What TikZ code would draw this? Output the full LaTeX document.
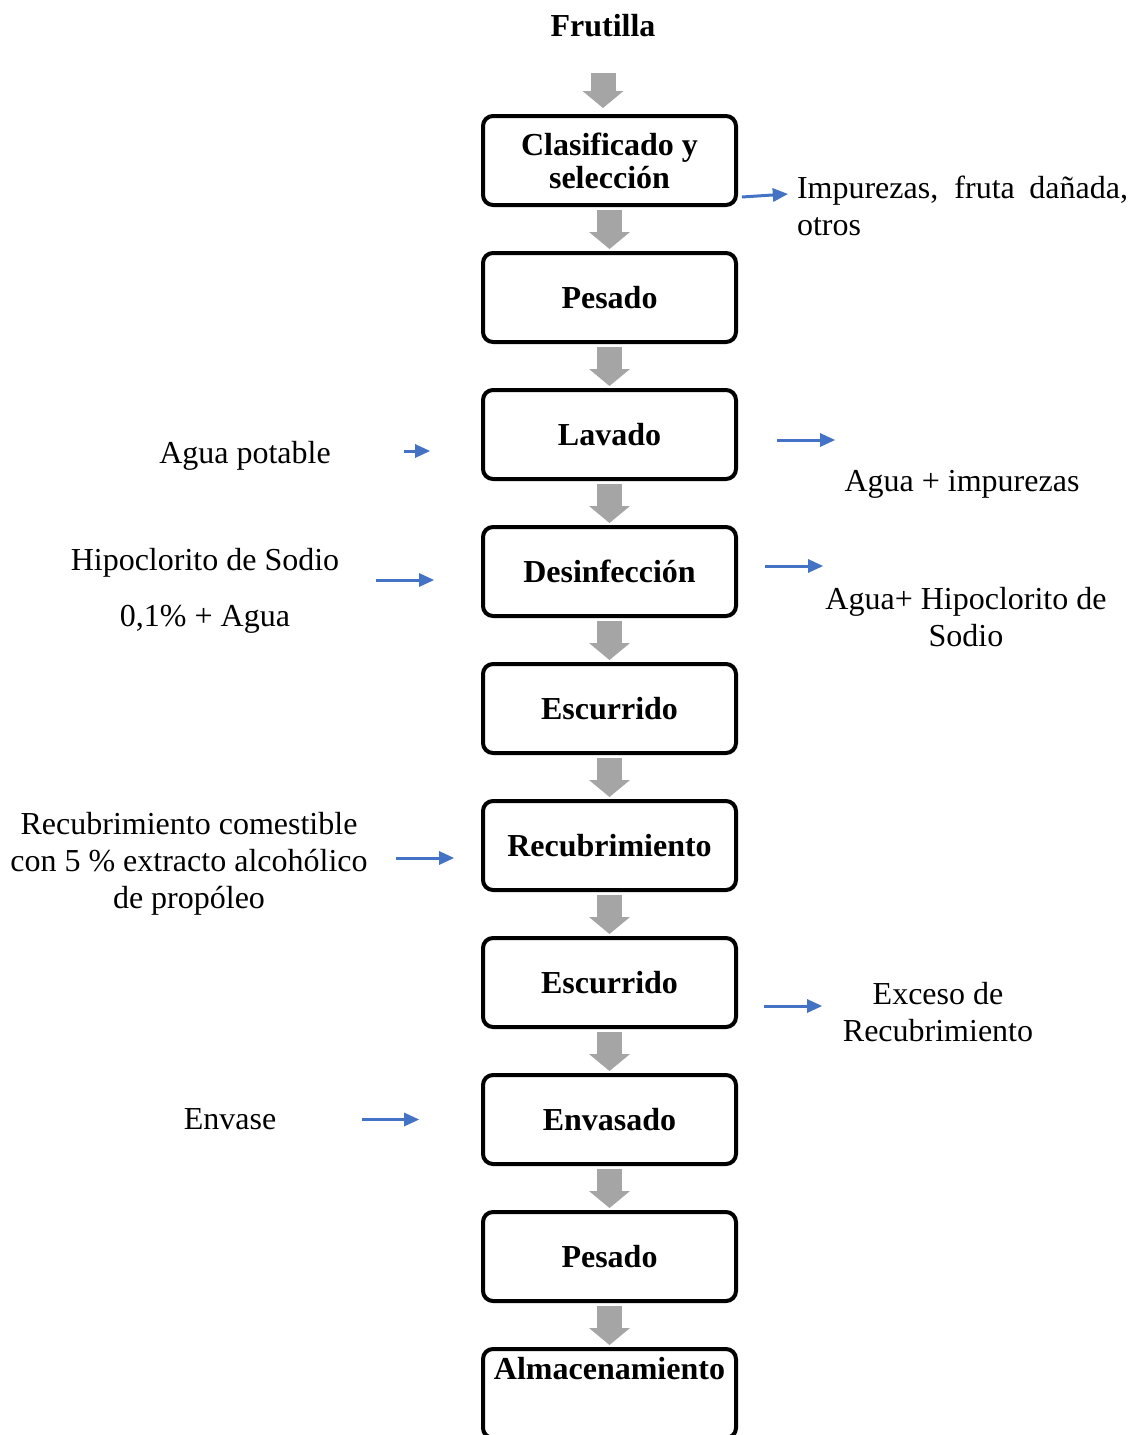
\documentclass[tikz,border=0pt]{standalone}
\usepackage{fontspec}
\setmainfont{Liberation Serif}
\usetikzlibrary{arrows.meta}
\definecolor{grisflecha}{HTML}{A5A5A5}
\definecolor{azulflecha}{HTML}{4472C4}
\tikzset{etapa/.style={draw,line width=4pt,rounded corners=10pt,minimum width=253pt,minimum height=89pt,inner sep=0pt,align=center,font=\fontsize{32}{33}\selectfont\bfseries},
    nota/.style={inner sep=0pt,align=center,font=\fontsize{32}{37}\selectfont},
    bloque/.style={grisflecha,line width=25pt,-{Triangle[width=41pt,length=17pt,line width=0pt]}},
    flujo/.style={azulflecha,line width=3pt,-{Triangle[width=14pt,length=15pt,line width=0pt]}}}

\begin{document}
\begin{tikzpicture}[x=1pt,y=-1pt]
\useasboundingbox (0,0) rectangle (1136,1435);

\node (frut) [nota,font=\fontsize{32}{37}\selectfont\bfseries] at (603,26) {Frutilla};

\node (clas)  [etapa] at (609.5,160.5)  {Clasificado y\\selección};
\node (pes1)  [etapa] at (609.5,297.5)  {Pesado};
\node (lav)   [etapa] at (609.5,434.5)  {Lavado};
\node (des)   [etapa] at (609.5,571.5)  {Desinfección};
\node (esc1)  [etapa] at (609.5,708.5)  {Escurrido};
\node (recub) [etapa] at (609.5,845.5)  {Recubrimiento};
\node (esc2)  [etapa] at (609.5,982.5)  {Escurrido};
\node (env)   [etapa] at (609.5,1119.5) {Envasado};
\node (pes2)  [etapa] at (609.5,1256.5) {Pesado};
\node (alm)   [etapa] at (609.5,1393.5) {Almacenamiento\\[18pt]\mbox{}};

% entradas y salidas
\node (impz) [nota,text width=331pt,align=justify] at (962.5,205.5) {Impurezas, fruta dañada, otros};
\node (aguap) [nota] at (245,456) {Agua potable};
\node (aguai) [nota] at (962,484) {Agua + impurezas};
\node (hipo) [nota] at (205,590.5) {Hipoclorito de Sodio\\[19pt]0,1\% + Agua};
\node (aguah) [nota] at (966,617) {Agua+ Hipoclorito de\\Sodio};
\node (recc) [nota] at (189,863.5) {Recubrimiento comestible\\con 5 \% extracto alcohólico\\de propóleo};
\node (exc) [nota] at (938,1012) {Exceso de\\Recubrimiento};
\node (envs) [nota] at (230,1119.5) {Envase};

% flechas del proceso
\draw [bloque,shorten <=36pt,shorten >=6pt] (frut) -- (frut |- clas.north);
\draw [bloque,shorten <=3pt,shorten >=2pt] (clas) -- (pes1);
\draw [bloque,shorten <=3pt,shorten >=2pt] (pes1) -- (lav);
\draw [bloque,shorten <=3pt,shorten >=2pt] (lav) -- (des);
\draw [bloque,shorten <=3pt,shorten >=2pt] (des) -- (esc1);
\draw [bloque,shorten <=3pt,shorten >=2pt] (esc1) -- (recub);
\draw [bloque,shorten <=3pt,shorten >=2pt] (recub) -- (esc2);
\draw [bloque,shorten <=3pt,shorten >=2pt] (esc2) -- (env);
\draw [bloque,shorten <=3pt,shorten >=2pt] (env) -- (pes2);
\draw [bloque,shorten <=3pt,shorten >=2pt] (pes2) -- (alm);

\draw [flujo] ([xshift=4pt,yshift=-36.5pt]clas.east) -- ([xshift=-9pt,yshift=11.5pt]impz.west);
\draw [flujo] ([xshift=-77pt,yshift=-16.5pt]lav.west) -- ([xshift=-51pt,yshift=-16.5pt]lav.west);
\draw [flujo] ([xshift=39pt,yshift=-5.5pt]lav.east) -- ([xshift=97pt,yshift=-5.5pt]lav.east);
\draw [flujo] ([xshift=-105pt,yshift=-8.5pt]des.west) -- ([xshift=-47pt,yshift=-8.5pt]des.west);
\draw [flujo] ([xshift=27pt,yshift=5.5pt]des.east) -- ([xshift=85pt,yshift=5.5pt]des.east);
\draw [flujo] ([xshift=-85pt,yshift=-12.5pt]recub.west) -- ([xshift=-27pt,yshift=-12.5pt]recub.west);
\draw [flujo] ([xshift=26pt,yshift=-23.5pt]esc2.east) -- ([xshift=84pt,yshift=-23.5pt]esc2.east);
\draw [flujo] ([xshift=-119pt]env.west) -- ([xshift=-62pt]env.west);

\end{tikzpicture}
\end{document}
